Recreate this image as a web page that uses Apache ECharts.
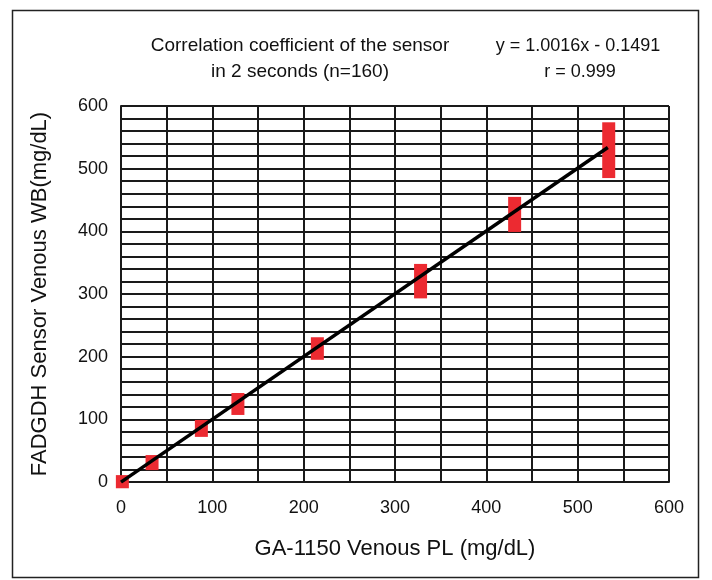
<!DOCTYPE html>
<html>
<head>
<meta charset="utf-8">
<script src="https://cdn.jsdelivr.net/npm/echarts@6/dist/echarts.min.js"></script>
<style>
  html, body { margin: 0; padding: 0; background: #fff; }
</style>
</head>
<body>
<div id="myChart" style="width:712px;height:580px;"></div>
<script>
// reference levels (GA-1150, mg/dL) and spread of sensor readings at each level
const levelX = [1.5, 34, 88, 128, 215, 328, 431, 534];
const sensorLow = [-10, 19, 72, 107, 195, 293, 399, 485];
const sensorHigh = [11, 43, 99, 142, 231, 348, 455, 574];

// regression line y = 1.0016x - 0.1491, end points
const fitX = [0, 533];
const fitY = [-0.15, 533.7];

const xTicks = [0, 600];
const yTicks = [0, 600];

const ranges = levelX.map((x, i) => [x, sensorLow[i], sensorHigh[i]]);
const fitLine = fitX.map((x, i) => [x, fitY[i]]);

const font = '"Liberation Sans", Arial, sans-serif';
const gridLine = { color: '#1a1a1a', width: 2 };

let myChart = echarts.init(document.getElementById('myChart'));
myChart.setOption({
  animation: false,
  graphic: [
    {
      type: 'rect',
      shape: { x: 12.5, y: 10.5, width: 686, height: 567 },
      style: { fill: 'none', stroke: '#222', lineWidth: 1.5 }
    },
    {
      type: 'text', x: 300, y: 46,
      style: { text: 'Correlation coefficient of the sensor', font: '19px ' + font, fill: '#111', align: 'center', verticalAlign: 'middle' }
    },
    {
      type: 'text', x: 300, y: 72,
      style: { text: 'in 2 seconds (n=160)', font: '19px ' + font, fill: '#111', align: 'center', verticalAlign: 'middle' }
    },
    {
      type: 'text', x: 578, y: 46,
      style: { text: 'y = 1.0016x - 0.1491', font: '18px ' + font, fill: '#111', align: 'center', verticalAlign: 'middle' }
    },
    {
      type: 'text', x: 580, y: 72,
      style: { text: 'r = 0.999', font: '18px ' + font, fill: '#111', align: 'center', verticalAlign: 'middle' }
    }
  ],
  grid: { left: 121, right: 43, top: 106, bottom: 98 },
  xAxis: {
    type: 'value',
    min: xTicks[0], max: xTicks[1], interval: 100,
    name: 'GA-1150 Venous PL (mg/dL)',
    nameLocation: 'middle', nameGap: 56,
    nameTextStyle: { fontFamily: font, fontSize: 22, color: '#111' },
    axisLine: { show: true, lineStyle: gridLine },
    axisTick: { show: false },
    axisLabel: { fontFamily: font, fontSize: 18, color: '#111', margin: 17 },
    splitLine: { show: true, lineStyle: gridLine },
    minorTick: { show: false, splitNumber: 2 },
    minorSplitLine: { show: true, lineStyle: gridLine }
  },
  yAxis: {
    type: 'value',
    min: yTicks[0], max: yTicks[1], interval: 100,
    name: 'FADGDH Sensor Venous WB(mg/dL)',
    nameLocation: 'middle', nameGap: 70,
    nameTextStyle: { fontFamily: font, fontSize: 22, color: '#111' },
    axisLine: { show: true, lineStyle: gridLine },
    axisTick: { show: false },
    axisLabel: { fontFamily: font, fontSize: 18, color: '#111', margin: 13 },
    splitLine: { show: true, lineStyle: gridLine },
    minorTick: { show: false, splitNumber: 5 },
    minorSplitLine: { show: true, lineStyle: gridLine }
  },
  series: [
    {
      type: 'custom',
      data: ranges,
      encode: { x: 0, y: [1, 2] },
      renderItem: function (params, api) {
        const top = api.coord([api.value(0), api.value(2)]);
        const bottom = api.coord([api.value(0), api.value(1)]);
        const w = 13;
        return {
          type: 'rect',
          shape: { x: top[0] - w / 2, y: top[1], width: w, height: bottom[1] - top[1] },
          style: { fill: '#ec2a31' }
        };
      },
      z: 3
    },
    {
      type: 'line',
      data: fitLine,
      symbol: 'none',
      lineStyle: { color: '#000', width: 3.5 },
      z: 4
    }
  ]
});
window.onresize = function () {
  myChart.resize();
};
</script>
</body>
</html>
